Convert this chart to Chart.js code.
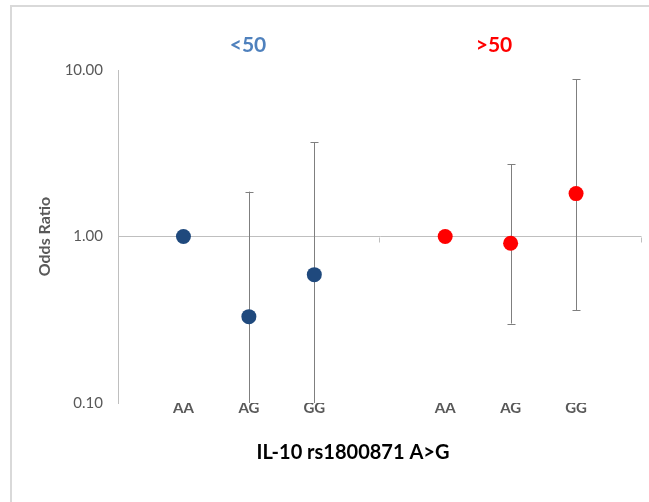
<!DOCTYPE html>
<html>
<head>
<meta charset="utf-8">
<script src="https://cdn.jsdelivr.net/npm/chart.js@4.4.1/dist/chart.umd.min.js"></script>
<style>
	html, body { margin: 0; padding: 0; background: #fff; }
	#wrap { position: relative; width: 649px; height: 502px; }
	#frame {
		position: absolute; left: 10px; top: 5px; right: 0; bottom: 0;
		border-left: 2px solid #d9d9d9; border-top: 2px solid #d9d9d9;
		pointer-events: none;
	}
</style>
</head>
<body>
<div id="wrap">
	<canvas id="chart" width="649" height="502"></canvas>
	<div id="frame"></div>
</div>
<script>
const groupNames = ["<50", ">50"];
const genotypes = ["AA", "AG", "GG"];
const orBelow50 = [1.0, 0.33, 0.59];
const lowBelow50 = [null, 0.06, 0.08];
const highBelow50 = [null, 1.86, 3.67];
const orAbove50 = [1.0, 0.91, 1.81];
const lowAbove50 = [null, 0.3, 0.36];
const highAbove50 = [null, 2.71, 8.77];
const yTicks = [0.1, 1, 10];
const xTitle = "IL-10 rs1800871 A>G";
const yTitle = "Odds Ratio";

const FONT = "Lato, 'Open Sans', sans-serif";
const GREY = "#595959";

// 9 slots: blank, AA AG GG, blank, AA AG GG, blank
const slots = ["", ...genotypes, "", ...genotypes, ""];
const first = (arr) => [null, ...arr, null, null, null, null, null];
const second = (arr) => [null, null, null, null, null, ...arr, null];

const errorBars = {
	id: "errorBars",
	beforeDatasetsDraw(chart) {
		const ctx = chart.ctx;
		const y = chart.scales.y;
		const area = chart.chartArea;
		ctx.save();
		ctx.beginPath();
		ctx.rect(area.left, area.top - 2, area.right - area.left, area.bottom - area.top + 2);
		ctx.clip();
		ctx.strokeStyle = "#7f7f7f";
		ctx.lineWidth = 1;
		chart.data.datasets.forEach((ds, i) => {
			const meta = chart.getDatasetMeta(i);
			meta.data.forEach((pt, j) => {
				const lo = ds.errLow[j];
				const hi = ds.errHigh[j];
				if (lo == null || hi == null) return;
				const x = Math.round(pt.x) + 0.5;
				const yl = y.getPixelForValue(lo);
				const yh = y.getPixelForValue(hi);
				ctx.beginPath();
				ctx.moveTo(x, yl);
				ctx.lineTo(x, yh);
				ctx.moveTo(x - 4, Math.round(yh) + 0.5);
				ctx.lineTo(x + 4, Math.round(yh) + 0.5);
				ctx.moveTo(x - 4, Math.round(yl) + 0.5);
				ctx.lineTo(x + 4, Math.round(yl) + 0.5);
				ctx.stroke();
			});
		});
		ctx.restore();

		// little tick marks on the axis line at y = 1
		const xs = chart.scales.x;
		const y1 = Math.round(y.getPixelForValue(1)) + 0.5;
		ctx.save();
		ctx.strokeStyle = "#bfbfbf";
		ctx.lineWidth = 1;
		[4, 8].forEach((k) => {
			const px = Math.round(xs.getPixelForValue(k)) - 0.5;
			ctx.beginPath();
			ctx.moveTo(px, y1);
			ctx.lineTo(px, y1 + 5);
			ctx.stroke();
		});
		ctx.restore();
	},
	afterDraw(chart) {
		const ctx = chart.ctx;
		ctx.save();
		ctx.textAlign = "center";
		ctx.textBaseline = "middle";
		ctx.font = "bold 21px " + FONT;
		ctx.fillStyle = "#4f81bd";
		ctx.fillText(groupNames[0], 248, 45);
		ctx.fillStyle = "#ff0000";
		ctx.fillText(groupNames[1], 494, 45);
		ctx.font = "bold 20px " + FONT;
		ctx.fillStyle = "#000000";
		ctx.fillText(xTitle, 353, 453);
		ctx.restore();
	},
};

new Chart(document.getElementById("chart"), {
	type: "line",
	data: {
		labels: slots,
		datasets: [
			{
				label: groupNames[0],
				data: first(orBelow50),
				errLow: first(lowBelow50),
				errHigh: first(highBelow50),
				showLine: false,
				pointRadius: 7.5,
				pointBackgroundColor: "#1f497d",
				pointBorderColor: "#1f497d",
				pointBorderWidth: 0,
			},
			{
				label: groupNames[1],
				data: second(orAbove50),
				errLow: second(lowAbove50),
				errHigh: second(highAbove50),
				showLine: false,
				pointRadius: 7.5,
				pointBackgroundColor: "#ff0000",
				pointBorderColor: "#ff0000",
				pointBorderWidth: 0,
			},
		],
	},
	options: {
		responsive: false,
		animation: false,
		events: [],
		layout: { padding: { left: 0, right: 4, top: 70, bottom: 0 } },
		plugins: {
			legend: { display: false },
			tooltip: { enabled: false },
		},
		scales: {
			x: {
				type: "category",
				offset: false,
				grid: { display: false, drawTicks: false },
				border: { display: false },
				ticks: {
					autoSkip: false,
					maxRotation: 0,
					padding: -4,
					color: GREY,
					font: { family: FONT, size: 15, weight: "bold" },
				},
				afterFit(scale) {
					scale.height = 99;
				},
			},
			y: {
				type: "logarithmic",
				min: 0.1,
				max: 10,
				afterBuildTicks(scale) {
					scale.ticks = yTicks.map((v) => ({ value: v }));
				},
				afterFit(scale) {
					scale.width = 118;
				},
				ticks: {
					padding: 15,
					color: GREY,
					font: { family: FONT, size: 15 },
					callback: (v) => Number(v).toFixed(2),
				},
				grid: {
					drawTicks: false,
					color: (c) => (c.tick && c.tick.value === 1 ? "#bfbfbf" : "rgba(0,0,0,0)"),
				},
				border: { display: true, color: "#bfbfbf" },
				title: {
					display: true,
					text: yTitle,
					color: GREY,
					font: { family: FONT, size: 16, weight: "bold" },
					padding: { top: 35, bottom: 0 },
				},
			},
		},
	},
	plugins: [errorBars],
});
</script>
</body>
</html>
